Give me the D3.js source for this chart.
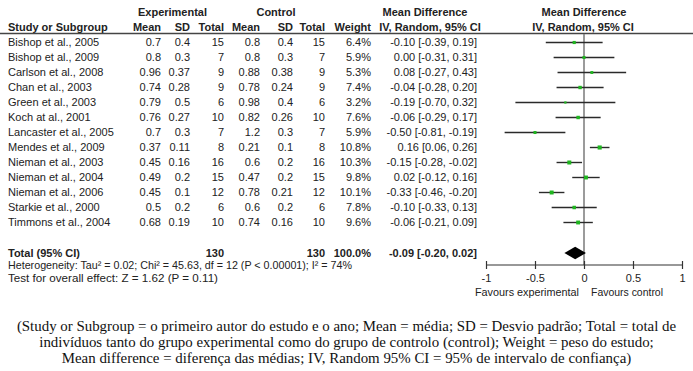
<!DOCTYPE html>
<html><head><meta charset="utf-8">
<script src="https://cdn.jsdelivr.net/npm/d3@7"></script>
<style>
body{margin:0;background:#fff;}
svg{display:block;}
text{font-family:"Liberation Sans",Arial,sans-serif;fill:#222;}
</style></head>
<body><svg id="c" width="693" height="371"></svg>
<script>
const studies = ["Bishop et al., 2005","Bishop et al., 2009","Carlson et al., 2008","Chan et al., 2003","Green et al., 2003","Koch at al., 2001","Lancaster et al., 2005","Mendes et al., 2009","Nieman et al., 2003","Nieman et al., 2004","Nieman et al., 2006","Starkie et al., 2000","Timmons et al., 2004"];
const expMean = ["0.7","0.8","0.96","0.74","0.79","0.76","0.7","0.37","0.45","0.49","0.45","0.5","0.68"];
const expSD   = ["0.4","0.3","0.37","0.28","0.5","0.27","0.3","0.11","0.16","0.2","0.1","0.2","0.19"];
const expN    = [15,7,9,9,6,10,7,8,16,15,12,6,10];
const ctlMean = ["0.8","0.8","0.88","0.78","0.98","0.82","1.2","0.21","0.6","0.47","0.78","0.6","0.74"];
const ctlSD   = ["0.4","0.3","0.38","0.24","0.4","0.26","0.3","0.1","0.2","0.2","0.21","0.2","0.16"];
const ctlN    = [15,7,9,9,6,10,7,8,16,15,12,6,10];
const weights = [6.4,5.9,5.3,7.4,3.2,7.6,5.9,10.8,10.3,9.8,10.1,7.8,9.6];
const md      = [-0.10,0.00,0.08,-0.04,-0.19,-0.06,-0.50,0.16,-0.15,0.02,-0.33,-0.10,-0.06];
const ciLow   = [-0.39,-0.31,-0.27,-0.28,-0.70,-0.29,-0.81,0.06,-0.28,-0.12,-0.46,-0.33,-0.21];
const ciHigh  = [0.19,0.31,0.43,0.20,0.32,0.17,-0.19,0.26,-0.02,0.16,-0.20,0.13,0.09];
const total = {expN:130, ctlN:130, weight:"100.0%", md:-0.09, lo:-0.20, hi:0.02};
const axisTicks = [-1,-0.5,0,0.5,1];
const axisTickLabels = ["-1","-0.5","0","0.5","1"];
const favoursLabels = ["Favours experimental","Favours control"];
const heterogeneityText = "Heterogeneity: Tau² = 0.02; Chi² = 45.63, df = 12 (P < 0.00001); I² = 74%";
const overallText = "Test for overall effect: Z = 1.62 (P = 0.11)";
const captionLines = [
 "(Study or Subgroup = o primeiro autor do estudo e o ano; Mean = média; SD = Desvio padrão; Total = total de",
 "indivíduos tanto do grupo experimental como do grupo de controlo (control); Weight = peso do estudo;",
 "Mean difference = diferença das médias; IV, Random 95% CI = 95% de intervalo de confiança)"
];

const svg = d3.select("#c");
const fs = 11;
const f2 = v => v.toFixed(2);
const ciStr = (m,l,h) => `${f2(m)} [${f2(l)}, ${f2(h)}]`;

const x = d3.scaleLinear().domain([-1,1]).range([486,682]);
const y = d3.scaleBand().domain(studies).range([35,230]).padding(0);
const yc = s => y(s) + y.bandwidth()/2;

const cols = {expMean:161, expSD:190, expN:224, ctlMean:260, ctlSD:293, ctlN:325, weight:371, ci:477};

function txt(g, xx, yy, s, anchor, bold){
  return g.append("text").attr("x",xx).attr("y",yy).attr("dy","0.35em")
    .attr("text-anchor",anchor||"start").attr("font-size",fs)
    .attr("font-weight",bold?"bold":"normal").text(s);
}

// headers
const h = svg.append("g");
txt(h,172.5,12,"Experimental","middle",true);
txt(h,276,12,"Control","middle",true);
txt(h,425,12,"Mean Difference","middle",true);
txt(h,584,12,"Mean Difference","middle",true);
txt(h,8,27,"Study or Subgroup","start",true);
txt(h,cols.expMean,27,"Mean","end",true);
txt(h,cols.expSD,27,"SD","end",true);
txt(h,cols.expN,27,"Total","end",true);
txt(h,cols.ctlMean,27,"Mean","end",true);
txt(h,cols.ctlSD,27,"SD","end",true);
txt(h,cols.ctlN,27,"Total","end",true);
txt(h,cols.weight,27,"Weight","end",true);
txt(h,430,27,"IV, Random, 95% CI","middle",true);
txt(h,583,27,"IV, Random, 95% CI","middle",true);

// header rule
svg.append("line").attr("x1",0).attr("x2",693).attr("y1",33.5).attr("y2",33.5)
  .attr("stroke","#444").attr("stroke-width",1.3);

// zero line
svg.append("line").attr("x1",x(0)).attr("x2",x(0)).attr("y1",34).attr("y2",265)
  .attr("stroke","#7a7a7a").attr("stroke-width",1.5);

// rows
const rows = svg.append("g");
studies.forEach((s,i)=>{
  const yy = yc(s);
  txt(rows,8,yy,s,"start");
  txt(rows,cols.expMean,yy,expMean[i],"end");
  txt(rows,cols.expSD,yy,expSD[i],"end");
  txt(rows,cols.expN,yy,expN[i],"end");
  txt(rows,cols.ctlMean,yy,ctlMean[i],"end");
  txt(rows,cols.ctlSD,yy,ctlSD[i],"end");
  txt(rows,cols.ctlN,yy,ctlN[i],"end");
  txt(rows,cols.weight,yy,weights[i].toFixed(1)+"%","end");
  txt(rows,cols.ci,yy,ciStr(md[i],ciLow[i],ciHigh[i]),"end");
});

// CI lines and squares
const marks = svg.append("g");
marks.selectAll("line.ci").data(studies).join("line").attr("class","ci")
  .attr("x1",(d,i)=>x(ciLow[i])).attr("x2",(d,i)=>x(ciHigh[i]))
  .attr("y1",d=>yc(d)).attr("y2",d=>yc(d))
  .attr("stroke","#2a2a2a").attr("stroke-width",1.4);
const side = w => 1.25*Math.sqrt(w);
marks.selectAll("rect.pt").data(studies).join("rect").attr("class","pt")
  .attr("x",(d,i)=>x(md[i])-side(weights[i])/2)
  .attr("y",(d,i)=>yc(d)-side(weights[i])/2)
  .attr("width",(d,i)=>side(weights[i])).attr("height",(d,i)=>side(weights[i]))
  .attr("fill","#1fb51f");

// total row
const ty = 253;
txt(rows,8,ty,"Total (95% CI)","start",true);
txt(rows,cols.expN,ty,total.expN,"end",true);
txt(rows,cols.ctlN,ty,total.ctlN,"end",true);
txt(rows,cols.weight,ty,total.weight,"end",true);
txt(rows,cols.ci,ty,ciStr(total.md,total.lo,total.hi),"end",true);
svg.append("path")
  .attr("d",`M${x(total.lo)},${ty} L${x(total.md)},${ty-6.3} L${x(total.hi)},${ty} L${x(total.md)},${ty+6.3} Z`)
  .attr("fill","#000");

const het = txt(rows,8,265.5,heterogeneityText,"start");
het.attr("textLength",344).attr("lengthAdjust","spacingAndGlyphs");
const ov = txt(rows,8,278,overallText,"start");
ov.attr("textLength",210).attr("lengthAdjust","spacingAndGlyphs");

// axis
const ax = svg.append("g").attr("transform","translate(0,265)")
  .call(d3.axisBottom(x).tickValues(axisTicks).tickFormat((d,i)=>axisTickLabels[i]).tickSize(4).tickPadding(4));
ax.select(".domain").attr("stroke","#333").attr("stroke-width",1.2).attr("d",`M${x(-1)},0H${x(1)}`);
ax.selectAll(".tick line").attr("y1",-4).attr("y2",4).attr("stroke","#333").attr("stroke-width",1.2);
ax.selectAll(".tick text").attr("font-size",fs).attr("fill","#222")
  .attr("font-family","Liberation Sans, Arial, sans-serif").attr("y",9);

txt(svg,527,292,favoursLabels[0],"middle").attr("textLength",104).attr("lengthAdjust","spacingAndGlyphs");
txt(svg,627,292,favoursLabels[1],"middle").attr("textLength",72).attr("lengthAdjust","spacingAndGlyphs");

// caption
const cap = svg.append("g");
const capT = captionLines.map((l,i)=>cap.append("text").attr("x",346.5).attr("y",326+16*i).attr("dy","0.35em")
  .attr("text-anchor","middle").style("font-family","'Liberation Serif','DejaVu Serif',serif")
  .attr("font-size",15).style("fill","#111").text(l));
const w0 = capT[0].node().getComputedTextLength();
const cfs = 15*660/w0;
capT.forEach(t=>t.attr("font-size",cfs));
</script></body></html>
